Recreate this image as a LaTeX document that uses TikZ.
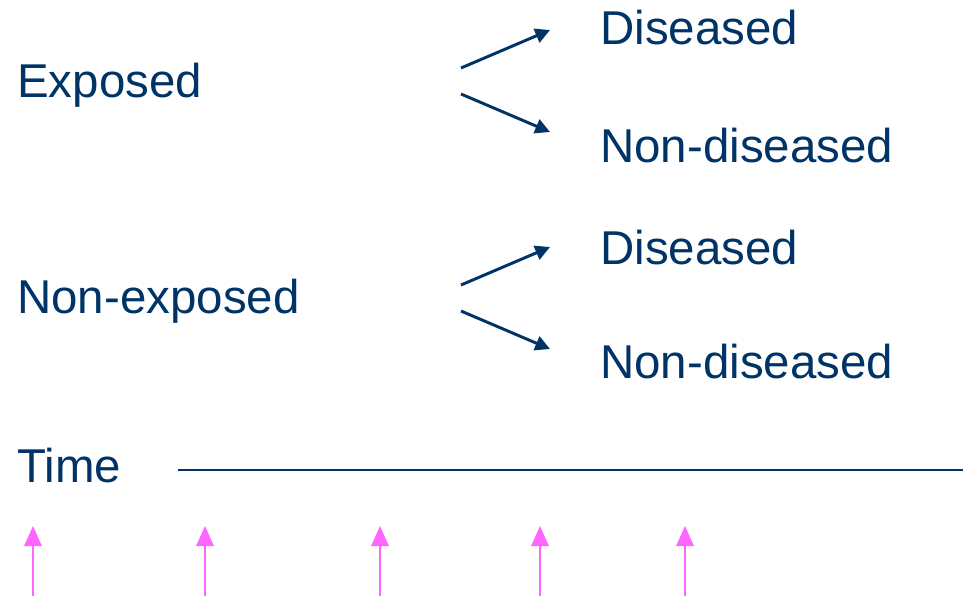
\documentclass[tikz,border=0pt]{standalone}
\usepackage{fontspec}
\setmainfont{Liberation Sans}
\usetikzlibrary{arrows.meta}
\definecolor{navy}{HTML}{003366}
\definecolor{pinkmark}{HTML}{FF66FF}
\tikzset{
  label/.style={anchor=base west, inner sep=0pt, text=navy, font=\fontsize{35.6}{40}\selectfont},
  branch/.style={draw=navy, line width=2.2pt, -{Triangle[length=11pt,width=11pt]}},
  timeline/.style={draw=navy, line width=1.8pt},
  marker/.style={draw=pinkmark, line width=1.6pt, -{Triangle[length=15pt,width=13pt]}}
}
\begin{document}
\begin{tikzpicture}[x=0.75pt, y=-0.75pt]
  \useasboundingbox (0,0) rectangle (963,596);

  % group labels
  \node[label] (exp)    at (17,97)  {Exposed};
  \node[label] (nonexp) at (17,313) {Non-exposed};
  \node[label] (time)   at (17,482) {Time};

  % outcome labels
  \node[label] (d1)  at (600,44)  {Diseased};
  \node[label] (nd1) at (600,162) {Non-diseased};
  \node[label] (d2)  at (600,264) {Diseased};
  \node[label] (nd2) at (600,378) {Non-diseased};

  % branch end points
  \coordinate (e0a) at (461,68);  \coordinate (e1a) at (550,30);
  \coordinate (e0b) at (461,94);  \coordinate (e1b) at (550,132);
  \coordinate (n0a) at (461,285); \coordinate (n1a) at (550,247);
  \coordinate (n0b) at (461,311); \coordinate (n1b) at (550,349);

  \draw[branch] (e0a) -- (e1a);
  \draw[branch] (e0b) -- (e1b);
  \draw[branch] (n0a) -- (n1a);
  \draw[branch] (n0b) -- (n1b);

  % time axis
  \coordinate (t0) at (178,470);
  \coordinate (t1) at (963,470);
  \draw[timeline] (t0) -- (t1);

  % observation markers
  \foreach \i/\x in {1/33, 2/205, 3/380, 4/540, 5/685} {
    \coordinate (m\i b) at (\x,596);
    \coordinate (m\i t) at (\x,526);
    \draw[marker] (m\i b) -- (m\i t);
  }
\end{tikzpicture}
\end{document}
